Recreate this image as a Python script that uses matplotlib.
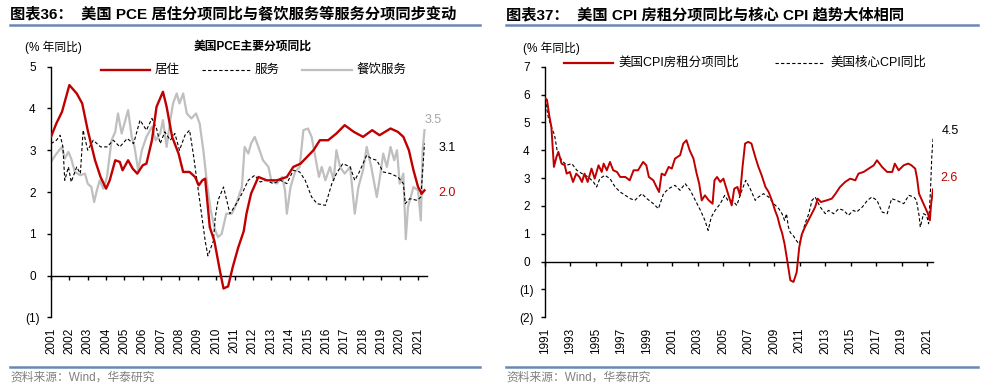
import matplotlib
matplotlib.use("Agg")
import matplotlib.pyplot as plt
from matplotlib.lines import Line2D

plt.rcParams["font.family"] = ["Liberation Sans", "Noto Sans CJK SC", "DejaVu Sans"]

# ---------------- 数据 ----------------
# 图表36：美国PCE主要分项同比（年份为小数）
housing_x = [2001.0, 2001.3, 2001.6, 2002.0, 2002.4, 2002.7, 2003.0, 2003.4, 2003.7, 2004.0,
             2004.2, 2004.5, 2004.75, 2004.9, 2005.2, 2005.45, 2005.7, 2006.0, 2006.2, 2006.5,
             2006.75, 2007.1, 2007.3, 2007.6, 2007.95, 2008.2, 2008.55, 2008.85, 2009.05, 2009.25,
             2009.4, 2009.65, 2009.9, 2010.2, 2010.4, 2010.65, 2010.9, 2011.2, 2011.5, 2011.65,
             2011.9, 2012.3, 2012.75, 2013.3, 2013.85, 2014.2, 2014.6, 2014.95, 2015.3, 2015.65,
             2016.1, 2016.55, 2017.0, 2017.5, 2018.0, 2018.5, 2018.9, 2019.5, 2019.9, 2020.2,
             2020.5, 2020.75, 2021.0, 2021.2, 2021.35]
housing_y = [3.32, 3.65, 3.92, 4.56, 4.36, 4.12, 3.48, 2.76, 2.36, 2.08,
             2.28, 2.76, 2.72, 2.52, 2.76, 2.56, 2.44, 2.64, 2.68, 3.24,
             4.04, 4.40, 4.04, 3.32, 2.92, 2.48, 2.48, 2.36, 2.16, 2.28,
             2.32, 1.16, 0.83, 0.12, -0.31, -0.26, 0.20, 0.67, 1.06, 1.48,
             1.96, 2.36, 2.28, 2.28, 2.36, 2.60, 2.68, 2.84, 3.00, 3.24,
             3.24, 3.40, 3.60, 3.44, 3.32, 3.48, 3.36, 3.52, 3.44, 3.32,
             3.00, 2.52, 2.12, 1.96, 2.04]

services_x = [2001.0, 2001.3, 2001.5, 2001.65, 2001.75, 2001.95, 2002.1, 2002.4, 2002.6, 2002.75,
              2003.0, 2003.3, 2003.7, 2004.05, 2004.4, 2004.75, 2005.15, 2005.5, 2005.85, 2006.2,
              2006.5, 2006.75, 2006.95, 2007.2, 2007.5, 2007.75, 2008.0, 2008.3, 2008.55, 2008.75,
              2009.0, 2009.2, 2009.4, 2009.55, 2009.85, 2009.95, 2010.1, 2010.4, 2010.75, 2011.1,
              2011.45, 2011.75, 2012.1, 2012.4, 2012.75, 2013.1, 2013.5, 2013.85, 2014.2, 2014.55,
              2014.85, 2015.2, 2015.5, 2015.95, 2016.3, 2016.55, 2016.9, 2017.3, 2017.55, 2017.8,
              2018.2, 2018.45, 2018.75, 2019.1, 2019.5, 2019.9, 2020.2, 2020.3, 2020.55, 2020.95,
              2021.15, 2021.35]
services_y = [3.16, 3.24, 3.36, 3.08, 2.28, 2.60, 2.24, 2.60, 2.44, 3.48,
              3.00, 3.24, 3.08, 3.08, 3.24, 3.08, 3.28, 3.16, 3.72, 3.48,
              3.76, 3.52, 3.16, 3.44, 3.24, 3.40, 3.00, 3.36, 3.48, 2.92,
              2.12, 1.48, 0.83, 0.47, 0.83, 1.40, 1.80, 2.12, 1.48, 1.72,
              2.00, 2.28, 2.40, 2.24, 2.28, 2.20, 2.28, 2.20, 2.52, 2.48,
              2.28, 1.88, 1.72, 1.68, 2.20, 2.44, 2.68, 2.60, 2.28, 2.48,
              2.88, 2.80, 2.76, 2.48, 2.44, 2.36, 2.20, 1.72, 1.84, 1.80,
              1.88, 3.16]

food_x = [2001.0, 2001.3, 2001.6, 2001.75, 2001.95, 2002.1, 2002.3, 2002.6, 2002.85, 2003.0,
          2003.2, 2003.35, 2003.5, 2003.65, 2003.85, 2004.05, 2004.3, 2004.5, 2004.65, 2004.85,
          2005.0, 2005.2, 2005.4, 2005.55, 2005.75, 2005.95, 2006.2, 2006.5, 2006.7, 2006.95,
          2007.1, 2007.3, 2007.5, 2007.65, 2007.85, 2008.0, 2008.2, 2008.4, 2008.65, 2008.9,
          2009.1, 2009.3, 2009.5, 2009.7, 2009.95, 2010.1, 2010.3, 2010.55, 2010.85, 2011.1,
          2011.4, 2011.55, 2011.75, 2011.9, 2012.1, 2012.3, 2012.55, 2012.85, 2013.0, 2013.3,
          2013.6, 2013.75, 2013.85, 2014.05, 2014.3, 2014.55, 2014.75, 2015.0, 2015.2, 2015.4,
          2015.6, 2015.75, 2015.95, 2016.2, 2016.4, 2016.55, 2016.75, 2017.0, 2017.3, 2017.55,
          2017.75, 2018.0, 2018.2, 2018.45, 2018.75, 2018.95, 2019.1, 2019.3, 2019.5, 2019.7,
          2019.85, 2020.0, 2020.2, 2020.33, 2020.45, 2020.75, 2021.0, 2021.15, 2021.25, 2021.35]
food_y = [2.72, 2.92, 3.08, 2.80, 2.96, 2.80, 2.48, 2.40, 2.44, 2.20,
          2.12, 1.76, 2.04, 2.28, 2.08, 2.36, 3.24, 3.44, 3.88, 3.40,
          3.64, 3.96, 3.32, 3.08, 2.52, 3.00, 3.32, 3.56, 3.24, 3.40,
          3.72, 3.08, 3.72, 4.12, 4.36, 4.12, 4.36, 3.88, 3.76, 3.88,
          3.64, 3.00, 2.20, 1.56, 1.08, 0.92, 1.00, 1.48, 1.48, 1.72,
          2.12, 3.08, 2.92, 3.16, 3.32, 3.08, 2.76, 2.60, 2.28, 2.20,
          2.36, 2.04, 1.48, 2.12, 2.48, 2.60, 3.48, 3.52, 3.32, 2.84,
          2.36, 2.60, 2.28, 2.60, 2.28, 3.00, 2.60, 2.44, 2.60, 1.48,
          2.12, 2.52, 3.08, 2.60, 1.88, 2.44, 2.92, 2.60, 3.08, 2.76,
          3.00, 2.20, 2.44, 0.87, 1.64, 2.12, 2.04, 1.32, 3.00, 3.48]

# 图表37：美国CPI房租分项同比与核心CPI同比
rent_x = [1991.0, 1991.15, 1991.35, 1991.5, 1991.7, 1991.9, 1992.05, 1992.3, 1992.55, 1992.7,
          1992.95, 1993.2, 1993.45, 1993.7, 1993.9, 1994.1, 1994.35, 1994.65, 1994.9, 1995.2,
          1995.45, 1995.6, 1995.85, 1996.1, 1996.35, 1996.65, 1996.9, 1997.3, 1997.65, 1997.95,
          1998.3, 1998.7, 1998.95, 1999.15, 1999.5, 1999.75, 1999.95, 2000.15, 2000.4, 2000.7,
          2000.95, 2001.2, 2001.6, 2001.85, 2002.1, 2002.35, 2002.65, 2002.9, 2003.1, 2003.3,
          2003.55, 2003.85, 2004.15, 2004.3, 2004.5, 2004.75, 2005.0, 2005.2, 2005.4, 2005.65,
          2005.85, 2006.1, 2006.3, 2006.5, 2006.7, 2006.95, 2007.2, 2007.5, 2007.75, 2008.0,
          2008.3, 2008.55, 2008.8, 2009.05, 2009.25, 2009.45, 2009.6, 2009.8, 2010.05, 2010.25,
          2010.5, 2010.75, 2010.95, 2011.15, 2011.4, 2011.8, 2012.2, 2012.4, 2012.65, 2013.1,
          2013.5, 2013.8, 2014.15, 2014.55, 2014.95, 2015.35, 2015.6, 2016.0, 2016.4, 2016.8,
          2017.05, 2017.45, 2017.85, 2018.25, 2018.45, 2018.75, 2019.15, 2019.5, 2019.75, 2020.05,
          2020.2, 2020.35, 2020.7, 2021.05, 2021.2, 2021.3, 2021.45]
rent_y = [5.86, 5.82, 5.20, 4.84, 3.40, 3.76, 3.94, 3.52, 3.46, 3.16,
          3.22, 2.86, 3.16, 3.04, 2.86, 3.16, 2.86, 3.34, 2.98, 3.46,
          3.22, 3.52, 3.28, 3.58, 3.28, 3.22, 3.04, 3.04, 2.92, 3.28,
          3.28, 3.58, 3.46, 3.04, 2.92, 2.68, 2.50, 3.16, 3.10, 3.40,
          3.34, 3.70, 3.82, 4.24, 4.36, 4.00, 3.70, 3.16, 2.80, 2.20,
          2.38, 2.20, 2.08, 2.92, 3.04, 2.86, 2.98, 2.68, 2.38, 2.02,
          2.62, 2.68, 2.38, 3.40, 4.24, 4.30, 4.24, 3.76, 3.40, 3.10,
          2.68, 2.50, 2.20, 1.84, 1.60, 1.24, 1.04, 0.63, -0.08, -0.67,
          -0.73, -0.38, 0.51, 0.98, 1.24, 1.60, 1.96, 2.26, 2.14, 2.20,
          2.26, 2.44, 2.68, 2.86, 2.98, 2.92, 3.16, 3.22, 3.34, 3.46,
          3.64, 3.40, 3.22, 3.22, 3.52, 3.28, 3.46, 3.52, 3.46, 3.34,
          2.98, 2.44, 2.08, 1.72, 1.48, 2.08, 2.60]

core_x = [1991.0, 1991.25, 1991.5, 1991.75, 1991.95, 1992.05, 1992.3, 1992.7, 1993.1, 1993.5,
          1993.9, 1994.4, 1994.8, 1995.05, 1995.3, 1995.7, 1996.1, 1996.5, 1996.9, 1997.3,
          1997.7, 1998.05, 1998.6, 1999.0, 1999.5, 1999.9, 2000.3, 2000.7, 2001.2, 2001.6,
          2002.0, 2002.4, 2002.8, 2003.2, 2003.55, 2003.8, 2004.05, 2004.35, 2004.75, 2005.1,
          2005.35, 2005.7, 2006.05, 2006.45, 2006.75, 2007.1, 2007.5, 2007.75, 2008.15, 2008.55,
          2008.95, 2009.35, 2009.6, 2009.8, 2009.95, 2010.1, 2010.25, 2010.5, 2010.75, 2010.95,
          2011.15, 2011.4, 2011.7, 2011.95, 2012.2, 2012.6, 2013.0, 2013.25, 2013.65, 2014.05,
          2014.45, 2014.8, 2015.2, 2015.45, 2015.9, 2016.3, 2016.65, 2017.05, 2017.45, 2017.85,
          2018.2, 2018.6, 2018.85, 2019.15, 2019.55, 2019.95, 2020.15, 2020.35, 2020.45, 2020.7,
          2020.95, 2021.1, 2021.25, 2021.35, 2021.45]
core_y = [5.86, 5.20, 4.84, 4.54, 4.00, 3.88, 3.64, 3.46, 3.52, 3.28,
          3.16, 3.04, 2.86, 2.68, 2.98, 3.10, 2.98, 2.68, 2.50, 2.38,
          2.26, 2.20, 2.44, 2.26, 2.08, 1.90, 2.44, 2.62, 2.74, 2.56,
          2.80, 2.56, 2.20, 1.84, 1.48, 1.12, 1.60, 1.84, 2.08, 2.38,
          2.20, 2.20, 2.02, 2.56, 2.92, 2.62, 2.20, 2.32, 2.44, 2.32,
          2.08, 1.90, 1.72, 1.48, 1.72, 1.24, 1.04, 0.92, 0.74, 0.63,
          0.92, 1.36, 1.72, 2.20, 2.32, 1.96, 1.72, 1.84, 1.72, 1.90,
          1.84, 1.66, 1.84, 1.78, 1.96, 2.20, 2.32, 2.20, 1.78, 1.72,
          2.26, 2.20, 2.14, 2.08, 2.38, 2.32, 2.20, 1.66, 1.24, 1.72,
          1.66, 1.36, 2.56, 3.76, 4.42]

left_years = list(range(2001, 2022))
right_years = list(range(1991, 2022, 2))
left_yticks = [-1, 0, 1, 2, 3, 4, 5]
right_yticks = [-2, -1, 0, 1, 2, 3, 4, 5, 6, 7]

RED = "#C00000"
GRAY = "#BFBFBF"
BLUE = "#6A87B5"

W, H = 985, 391


def fx(px):
    return px / W


def fy(py):
    return 1 - py / H


def ytick_label(v):
    return f"({-v})" if v < 0 else str(v)


def style_axes(ax, xticks, yticks, xlim, ylim, label_pad_px):
    ax.set_xlim(*xlim)
    ax.set_ylim(*ylim)
    for s in ["top", "right"]:
        ax.spines[s].set_visible(False)
    ax.spines["bottom"].set_position(("data", 0))
    ax.spines["left"].set_linewidth(1.0)
    ax.spines["bottom"].set_linewidth(1.0)
    ax.set_xticks(xticks)
    ax.set_xticklabels([str(y) for y in xticks], rotation=90, fontsize=8.5, va="top")
    ax.set_yticks(yticks)
    ax.set_yticklabels([ytick_label(v) for v in yticks], fontsize=8.5, ha="center")
    ax.tick_params(axis="x", direction="out", length=3, width=1, pad=label_pad_px * 0.72)
    ax.tick_params(axis="y", direction="out", length=3, width=1, pad=14.5 * 0.72)
    ax.patch.set_visible(False)


def header(fig, x0, x1, title):
    fig.text(fx(x0), fy(15), title, fontsize=11, fontweight="bold", va="center", ha="left")
    fig.add_artist(Line2D([fx(x0), fx(x1)], [fy(25), fy(25)], color=BLUE, lw=1.8))
    fig.add_artist(Line2D([fx(x0), fx(x1)], [fy(366.7), fy(366.7)], color=BLUE, lw=1.8))
    fig.text(fx(x0), fy(378), "资料来源：Wind，华泰研究", fontsize=8.5, color="#808080",
             va="center", ha="left")


def legend_item(fig, x0, x1, y, text, **style):
    fig.add_artist(Line2D([fx(x0), fx(x1)], [fy(y), fy(y)], **style))
    fig.text(fx(x1 + 5), fy(y), text, fontsize=9, va="center", ha="left")


fig = plt.figure(figsize=(9.85, 3.91), dpi=100)

# ---------------- 左图 ----------------
ax1 = fig.add_axes([fx(51), fy(317.3), fx(426.7) - fx(51), fy(66.7) - fy(317.3)])
ax1.plot(food_x, food_y, color=GRAY, lw=1.6, zorder=1)
ax1.plot(services_x, services_y, color="black", lw=0.8, ls=(0, (3, 2)), zorder=2)
ax1.plot(housing_x, housing_y, color=RED, lw=1.7, zorder=3)
style_axes(ax1, left_years, left_yticks, (2001, 2021.47), (-1, 5), 47.7)

ax1.text(2021.35, 3.72, "3.5", color="#A6A6A6", fontsize=9, ha="left", va="center", clip_on=False)
ax1.text(2022.1, 3.06, "3.1", color="black", fontsize=9, ha="left", va="center", clip_on=False)
ax1.text(2022.1, 1.98, "2.0", color=RED, fontsize=9, ha="left", va="center", clip_on=False)

header(fig, 10, 480, "图表36：  美国 PCE 居住分项同比与餐饮服务等服务分项同步变动")
fig.text(fx(25), fy(47), "(% 年同比)", fontsize=8.5, va="center", ha="left")
fig.text(fx(253), fy(47), "美国PCE主要分项同比", fontsize=8.5, fontweight="bold",
         va="center", ha="center")
legend_item(fig, 101, 150, 70, "居住", color=RED, lw=1.7)
legend_item(fig, 202, 250, 70, "服务", color="black", lw=0.8, ls=(0, (3, 2)))
legend_item(fig, 302, 352, 70, "餐饮服务", color=GRAY, lw=1.6)

# ---------------- 右图 ----------------
ax2 = fig.add_axes([fx(545), fy(317.3), fx(933.3) - fx(545), fy(66.7) - fy(317.3)])
ax2.plot(core_x, core_y, color="black", lw=0.8, ls=(0, (3, 2)), zorder=2)
ax2.plot(rent_x, rent_y, color=RED, lw=1.4, zorder=3)
style_axes(ax2, right_years, right_yticks, (1991, 2021.47), (-2, 7), 61.7)

ax2.text(2022.13, 4.69, "4.5", color="black", fontsize=9, ha="left", va="center", clip_on=False)
ax2.text(2022.0, 3.0, "2.6", color=RED, fontsize=9, ha="left", va="center", clip_on=False)

header(fig, 506, 978, "图表37：  美国 CPI 房租分项同比与核心 CPI 趋势大体相同")
fig.text(fx(523), fy(48), "(% 年同比)", fontsize=8.5, va="center", ha="left")
legend_item(fig, 564, 613, 62.7, "美国CPI房租分项同比", color=RED, lw=1.6)
legend_item(fig, 775, 825, 62.7, "美国核心CPI同比", color="black", lw=0.8, ls=(0, (3, 2)))

fig.savefig("out.png", dpi=100)
